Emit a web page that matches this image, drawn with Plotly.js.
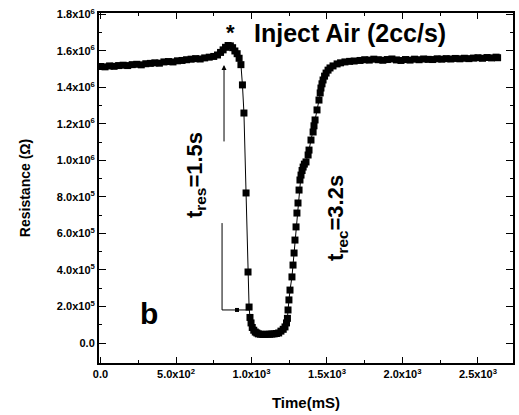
<!DOCTYPE html>
<html>
<head>
<meta charset="utf-8">
<script src="https://cdn.plot.ly/plotly-3.0.1.min.js"></script>
<style>html,body{margin:0;padding:0;background:#fff}#chart{width:519px;height:415px}</style>
</head>
<body>
<div id="chart"></div>
<script>
// Time (mS)
const time = [0,30,60,90,120,150,180,210,240,270,300,330,360,390,420,450,480,510,540,570,600,630,660,690,720,750,775,795,812,828,845,860,875,890,905,918,930,940,950,964,977,984,990,997,1005,1015,1025,1035,1045,1060,1075,1090,1105,1120,1135,1150,1165,1180,1195,1210,1222,1232,1238,1242,1248,1255,1268,1275,1282,1288,1295,1301,1308,1315,1321,1328,1335,1342,1350,1361,1375,1381,1394,1408,1414,1421,1434,1447,1455,1460,1467,1474,1484,1494,1507,1520,1540,1567,1590,1619,1650,1680,1719,1750,1780,1810,1840,1870,1900,1930,1960,1990,2020,2050,2080,2110,2140,2170,2200,2230,2260,2290,2320,2350,2380,2410,2440,2470,2500,2530,2560,2590,2620,2630];
// Resistance (Ohm)
const resistance = [1.515e6,1.513e6,1.518e6,1.516e6,1.520e6,1.522e6,1.520e6,1.525e6,1.527e6,1.524e6,1.530e6,1.532e6,1.535e6,1.533e6,1.540e6,1.542e6,1.540e6,1.546e6,1.548e6,1.552e6,1.555e6,1.558e6,1.556e6,1.562e6,1.566e6,1.570e6,1.578e6,1.592e6,1.606e6,1.620e6,1.630e6,1.628e6,1.618e6,1.600e6,1.585e6,1.560e6,1.525e6,1.414e6,1.260e6,8.22e5,3.89e5,1.97e5,1.40e5,1.10e5,8.5e4,7.0e4,6.0e4,5.5e4,5.0e4,4.8e4,4.7e4,4.7e4,4.8e4,4.8e4,4.9e4,5.0e4,5.2e4,5.5e4,6.5e4,7.5e4,8.8e4,1.10e5,1.35e5,1.81e5,2.36e5,2.90e5,3.62e5,4.27e5,4.93e5,5.64e5,6.36e5,7.12e5,7.67e5,8.38e5,8.93e5,9.20e5,9.45e5,9.64e5,9.80e5,9.92e5,1.03e6,1.057e6,1.112e6,1.156e6,1.19e6,1.222e6,1.277e6,1.331e6,1.37e6,1.397e6,1.42e6,1.441e6,1.462e6,1.479e6,1.495e6,1.507e6,1.518e6,1.529e6,1.535e6,1.540e6,1.543e6,1.545e6,1.548e6,1.552e6,1.550e6,1.555e6,1.552e6,1.549e6,1.553e6,1.556e6,1.551e6,1.548e6,1.553e6,1.550e6,1.555e6,1.552e6,1.556e6,1.554e6,1.553e6,1.557e6,1.555e6,1.558e6,1.556e6,1.559e6,1.557e6,1.560e6,1.558e6,1.561e6,1.563e6,1.560e6,1.564e6,1.562e6,1.566e6,1.563e6];

const xTickVals = [0,500,1000,1500,2000,2500];
const xTickText = ["0.0","5.0x10<sup>2</sup>","1.0x10<sup>3</sup>","1.5x10<sup>3</sup>","2.0x10<sup>3</sup>","2.5x10<sup>3</sup>"];
const yTickVals = [0,2e5,4e5,6e5,8e5,1.0e6,1.2e6,1.4e6,1.6e6,1.8e6];
const yTickText = ["0.0","2.0x10<sup>5</sup>","4.0x10<sup>5</sup>","6.0x10<sup>5</sup>","8.0x10<sup>5</sup>","1.0x10<sup>6</sup>","1.2x10<sup>6</sup>","1.4x10<sup>6</sup>","1.6x10<sup>6</sup>","1.8x10<sup>6</sup>"];

// response bracket guide
const bracketX = [805, 805, 990];
const bracketY = [6.57e5, 1.81e5, 1.81e5];
const bracketMarkX = [904];
const bracketMarkY = [1.81e5];

const FONT = "Liberation Sans, Arial, sans-serif";

const traces = [
  {x: time, y: resistance, type: 'scatter', mode: 'lines+markers',
   line: {color: '#000', width: 1},
   marker: {symbol: 'square', size: 7, color: '#000'}, showlegend: false, hoverinfo: 'skip'},
  {x: bracketX, y: bracketY, type: 'scatter', mode: 'lines',
   line: {color: '#000', width: 1}, showlegend: false, hoverinfo: 'skip'},
  {x: bracketMarkX, y: bracketMarkY, type: 'scatter', mode: 'markers',
   marker: {symbol: 'square', size: 4, color: '#000'}, showlegend: false, hoverinfo: 'skip'}
];

const axisCommon = {
  showline: true, linecolor: '#000', linewidth: 2, mirror: 'allticks',
  ticks: 'inside', tickcolor: '#000', tickwidth: 1, showgrid: false, zeroline: false,
  tickmode: 'array',
  tickfont: {family: FONT, size: 11, color: '#000', weight: 'bold'}
};

const layout = {
  width: 519, height: 415,
  margin: {l: 99, r: 6, t: 13, b: 52},
  paper_bgcolor: '#fff', plot_bgcolor: '#fff',
  font: {family: FONT, color: '#000'},
  xaxis: Object.assign({}, axisCommon, {
    range: [-10, 2732], tickvals: xTickVals, ticktext: xTickText, ticklen: 6,
    minor: {tickmode: 'array', tickvals: [250,750,1250,1750,2250], ticks: 'inside', ticklen: 3, tickcolor: '#000', showgrid: false},
    title: {text: 'Time(mS)', font: {family: FONT, size: 15, weight: 'bold', color: '#000'}, standoff: 18}
  }),
  yaxis: Object.assign({}, axisCommon, {
    range: [-1.096e5, 1.808e6], tickvals: yTickVals, ticktext: yTickText, ticklen: 7,
    minor: {tickmode: 'array', tickvals: [1e5,3e5,5e5,7e5,9e5,1.1e6,1.3e6,1.5e6,1.7e6], ticks: 'inside', ticklen: 3, tickcolor: '#000', showgrid: false},
    title: {text: 'Resistance (Ω)', font: {family: FONT, size: 14, weight: 'bold', color: '#000'}, standoff: 23}
  }),
  annotations: [
    {x: 858, y: 1.70e6, xref: 'x', yref: 'y', text: '*', showarrow: false,
     font: {family: FONT, size: 22, weight: 'bold', color: '#000'}},
    {x: 1653, y: 1.698e6, xref: 'x', yref: 'y', text: 'Inject Air (2cc/s)', showarrow: false,
     font: {family: FONT, size: 25, weight: 'bold', color: '#000'}},
    {x: 321, y: 1.59e5, xref: 'x', yref: 'y', text: 'b', showarrow: false,
     font: {family: FONT, size: 30, weight: 'bold', color: '#000'}},
    {x: 818, y: 1.523e6, xref: 'x', yref: 'y', ax: 818, ay: 1.096e6, axref: 'x', ayref: 'y',
     text: '', showarrow: true, arrowhead: 2, arrowsize: 1, arrowwidth: 1, arrowcolor: '#000'},
    {x: 632, y: 9.2e5, xref: 'x', yref: 'y', text: 't<sub>res</sub>=1.5s', textangle: -90, showarrow: false,
     xanchor: 'center', yanchor: 'middle',
     font: {family: FONT, size: 22, weight: 'bold', color: '#000'}},
    {x: 1566, y: 6.85e5, xref: 'x', yref: 'y', text: 't<sub>rec</sub>=3.2s', textangle: -90, showarrow: false,
     xanchor: 'center', yanchor: 'middle',
     font: {family: FONT, size: 22, weight: 'bold', color: '#000'}}
  ]
};

Plotly.newPlot('chart', traces, layout, {displayModeBar: false, staticPlot: true});
</script>
</body>
</html>
